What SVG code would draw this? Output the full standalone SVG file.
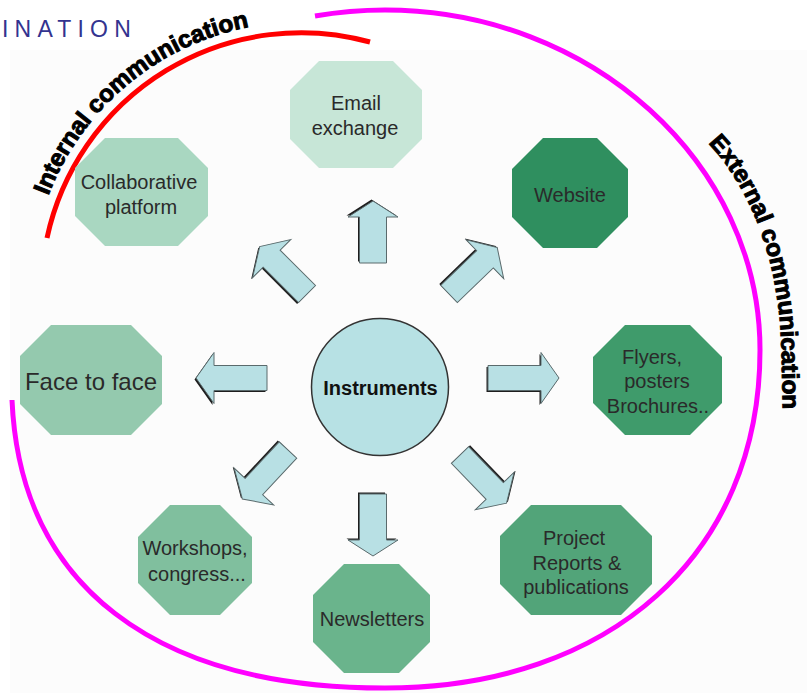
<svg xmlns="http://www.w3.org/2000/svg" xmlns:xlink="http://www.w3.org/1999/xlink" width="807" height="693" viewBox="0 0 807 693">
<style>
.lbl{font-family:"Liberation Sans",Arial,sans-serif;font-size:20px;fill:#2a2a2a;text-anchor:middle}
.big{font-size:24px}
.ctr{font-family:"Liberation Sans",Arial,sans-serif;font-size:20px;font-weight:bold;fill:#111;text-anchor:middle}
.arc{font-family:"Liberation Sans",Arial,sans-serif;font-weight:bold;fill:#000;stroke:#000;stroke-width:1}
.arr{fill:#b8e0e4;stroke:#5a6a6c;stroke-width:1}
.sh{fill:#1e1e1e}
</style>
<defs>
<polygon id="arrV" points="0,-13.5 46,-13.5 46,-25 62,0 46,25 46,13.5 0,13.5"/>
<polygon id="arrH" points="0,-12.5 53,-12.5 53,-25.5 71,0 53,25.5 53,12.5 0,12.5"/>
<polygon id="arrD" points="0,-12 50,-12 50,-27 67,0 50,27 50,12 0,12"/>
<path id="intPath" d="M 47.3,198.6 A 270 270 0 0 1 277.5,23"/>
<path id="extPath" d="M 706,141 C 752,188 778,262 781,340 Q 782.5,379 783,425"/>
</defs>
<rect x="0" y="0" width="807" height="693" fill="#ffffff"/>
<rect x="10" y="50" width="797" height="643" fill="#fcfcfc"/>
<text x="2" y="37" font-family="Liberation Sans,Arial,sans-serif" font-size="23" fill="#33338f" letter-spacing="6.2">INATION</text>

<g id="arcs">
<path d="M 47,238 A 260 260 0 0 1 370,42" fill="none" stroke="#ff0000" stroke-width="5"/>
<path d="M 315,16 Q 350,10 385,10 C 591,10 760,163 760,350 C 760,554 610,688 385,688 C 154,688 20,585 12,400" fill="none" stroke="#ff00ff" stroke-width="5"/>
<text class="arc" font-size="24"><textPath xlink:href="#intPath" startOffset="3" textLength="274" lengthAdjust="spacingAndGlyphs">Internal communication</textPath></text>
<text class="arc" font-size="24"><textPath xlink:href="#extPath" startOffset="3" textLength="284" lengthAdjust="spacingAndGlyphs">External communication</textPath></text>
</g>

<g id="connectors">
<g transform="translate(373,263) rotate(-90)"><use href="#arrV" class="sh" x="1.5" y="-1.5"/><use href="#arrV" class="arr"/></g>
<g transform="translate(373,494) rotate(90)"><use href="#arrV" class="sh" x="-1.5" y="1.5"/><use href="#arrV" class="arr"/></g>
<g transform="translate(488,378)"><use href="#arrH" class="sh" x="-1.5" y="1.5"/><use href="#arrH" class="arr"/></g>
<g transform="translate(267,378) rotate(180)"><use href="#arrH" class="sh" x="1.5" y="-1.5"/><use href="#arrH" class="arr"/></g>
<g transform="translate(307,294) rotate(-135)"><use href="#arrD" class="sh" x="0" y="-2"/><use href="#arrD" class="arr"/></g>
<g transform="translate(449,294) rotate(-44)"><use href="#arrD" class="sh" x="0" y="-2"/><use href="#arrD" class="arr"/></g>
<g transform="translate(288,450) rotate(133)"><use href="#arrD" class="sh" x="0" y="2"/><use href="#arrD" class="arr"/></g>
<g transform="translate(460,455) rotate(46)"><use href="#arrD" class="sh" x="0" y="-2"/><use href="#arrD" class="arr"/></g>
</g>

<g id="instruments">
<circle cx="380" cy="387" r="68.5" fill="#b7e1e4" stroke="#333" stroke-width="1.5"/>
<text class="ctr" x="380.5" y="395">Instruments</text>
</g>

<g id="email">
<polygon points="319,61 393,61 422,90 422,139 393,168 319,168 290,139 290,90" fill="#c7e6d7"/>
<text class="lbl" x="356" y="110">Email</text>
<text class="lbl" x="355" y="135">exchange</text>
</g>
<g id="collaborative">
<polygon points="105,138 178,138 208,168 208,216 178,246 105,246 75,216 75,168" fill="#a9d7c1"/>
<text class="lbl" x="139" y="189">Collaborative</text>
<text class="lbl" x="141" y="214">platform</text>
</g>
<g id="website">
<polygon points="543,138 597,138 628,169 628,217 597,248 543,248 512,217 512,169" fill="#2f8f5f"/>
<text class="lbl" x="570" y="202">Website</text>
</g>
<g id="face">
<polygon points="51,325 131,325 162,356 162,404 131,435 51,435 20,404 20,356" fill="#94c9ae"/>
<text class="lbl big" x="91" y="390">Face to face</text>
</g>
<g id="flyers">
<polygon points="625,325 690,325 722,357 722,403 690,435 625,435 593,403 593,357" fill="#3f9b6b"/>
<text class="lbl" x="652" y="364">Flyers,</text>
<text class="lbl" x="657" y="388">posters</text>
<text class="lbl" x="658" y="413">Brochures..</text>
</g>
<g id="workshops">
<polygon points="170,505 220,505 252,537 252,583 220,615 170,615 138,583 138,537" fill="#80bf9e"/>
<text class="lbl" x="195" y="555">Workshops,</text>
<text class="lbl" x="197" y="581">congress...</text>
</g>
<g id="newsletters">
<polygon points="344,564 399,564 430,595 430,642 399,673 344,673 313,642 313,595" fill="#6ab48c"/>
<text class="lbl" x="372" y="626">Newsletters</text>
</g>
<g id="project">
<polygon points="531,505 621,505 652,536 652,584 621,615 531,615 500,584 500,536" fill="#52a479"/>
<text class="lbl" x="574" y="545">Project</text>
<text class="lbl" x="577" y="570">Reports &amp;</text>
<text class="lbl" x="576" y="594">publications</text>
</g>
</svg>
